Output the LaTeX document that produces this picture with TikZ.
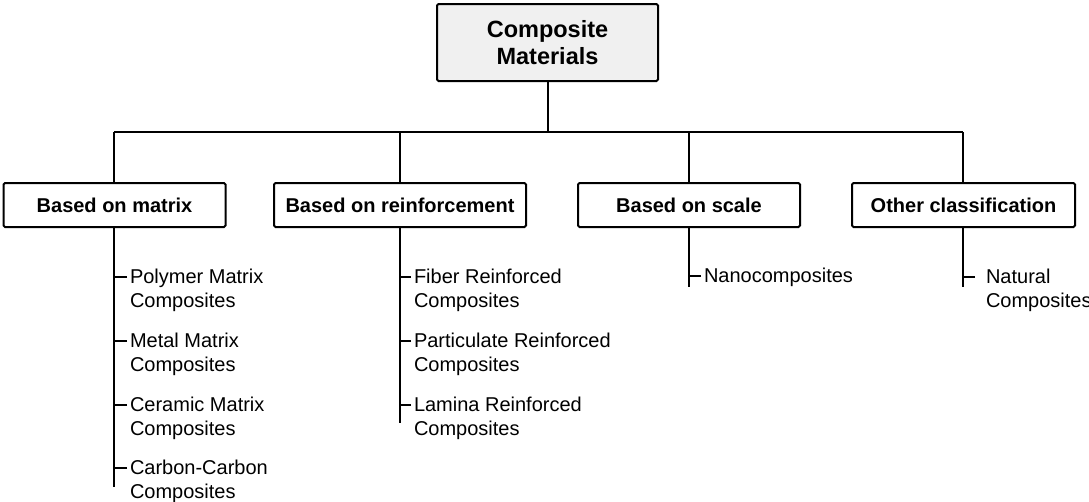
\documentclass[tikz,border=0pt]{standalone}
\usepackage{fontspec}
\setmainfont{Liberation Sans}
\newcommand{\twolines}[2]{\vtop{\baselineskip=24.5pt\hbox{#1}\hbox{#2}}}
\begin{document}
\begin{tikzpicture}[x=1pt,y=-1pt,line width=2pt,
  rootbox/.style={draw,fill=black!6,rounded corners=1.5pt,minimum width=221pt,minimum height=77pt,inner sep=0pt,align=center,font=\fontsize{23.5}{27}\selectfont\bfseries},
  catbox/.style={draw,fill=white,rounded corners=1.5pt,minimum height=44pt,inner sep=0pt,font=\fontsize{20}{24}\selectfont\bfseries},
  item/.style={anchor=base west,inner sep=0pt,font=\fontsize{20}{24.5}\selectfont}]
\useasboundingbox (0,0) rectangle (1089,501);

\node[rootbox] (root) at (547.5,42.5) {Composite\\Materials};

\node[catbox,minimum width=222pt] (b1) at (114.5,205) {Based on matrix};
\node[catbox,minimum width=252pt] (b2) at (400,205) {Based on reinforcement};
\node[catbox,minimum width=222pt] (b3) at (689,205) {Based on scale};
\node[catbox,minimum width=223pt] (b4) at (963.5,205) {Other classification};

\coordinate (j) at (547.5,132);
\coordinate (c1) at (114,132);
\coordinate (c2) at (400,132);
\coordinate (c3) at (689,132);
\coordinate (c4) at (963,132);
\draw (root.south) -- (j);
\draw (c1) -- (c4);
\draw (c1) -- (c1 |- b1.north);
\draw (c2) -- (c2 |- b2.north);
\draw (c3) -- (c3 |- b3.north);
\draw (c4) -- (c4 |- b4.north);

% column 1
\coordinate (e1) at (114,487);
\draw (c1 |- b1.south) -- (e1);
\node[item] (p1) at (129,283) {\twolines{Polymer Matrix}{Composites}};
\node[item] (p2) at (129,347) {\twolines{Metal Matrix}{Composites}};
\node[item] (p3) at (129,411) {\twolines{Ceramic Matrix}{Composites}};
\node[item] (p4) at (129,474) {\twolines{Carbon-Carbon}{Composites}};
\foreach \n in {p1,p2,p3,p4}
  \draw (\n.base west) ++(-2,-6.5) -- ++(-13,0);

% column 2
\coordinate (e2) at (400,423);
\draw (c2 |- b2.south) -- (e2);
\node[item] (r1) at (413,283) {\twolines{Fiber Reinforced}{Composites}};
\node[item] (r2) at (413,347) {\twolines{Particulate Reinforced}{Composites}};
\node[item] (r3) at (413,411) {\twolines{Lamina Reinforced}{Composites}};
\foreach \n in {r1,r2,r3}
  \draw (\n.base west) ++(-2,-6.5) -- ++(-11,0);

% column 3
\coordinate (e3) at (689,287);
\draw (c3 |- b3.south) -- (e3);
\node[item] (s1) at (703,282) {Nanocomposites};
\draw (s1.base west) ++(-2,-6.5) -- ++(-12,0);

% column 4
\coordinate (e4) at (963,287);
\draw (c4 |- b4.south) -- (e4);
\node[item] (o1) at (985,283) {\twolines{Natural}{Composites}};
\draw (o1.base west) ++(-10,-6.5) -- ++(-12,0);
\end{tikzpicture}
\end{document}
